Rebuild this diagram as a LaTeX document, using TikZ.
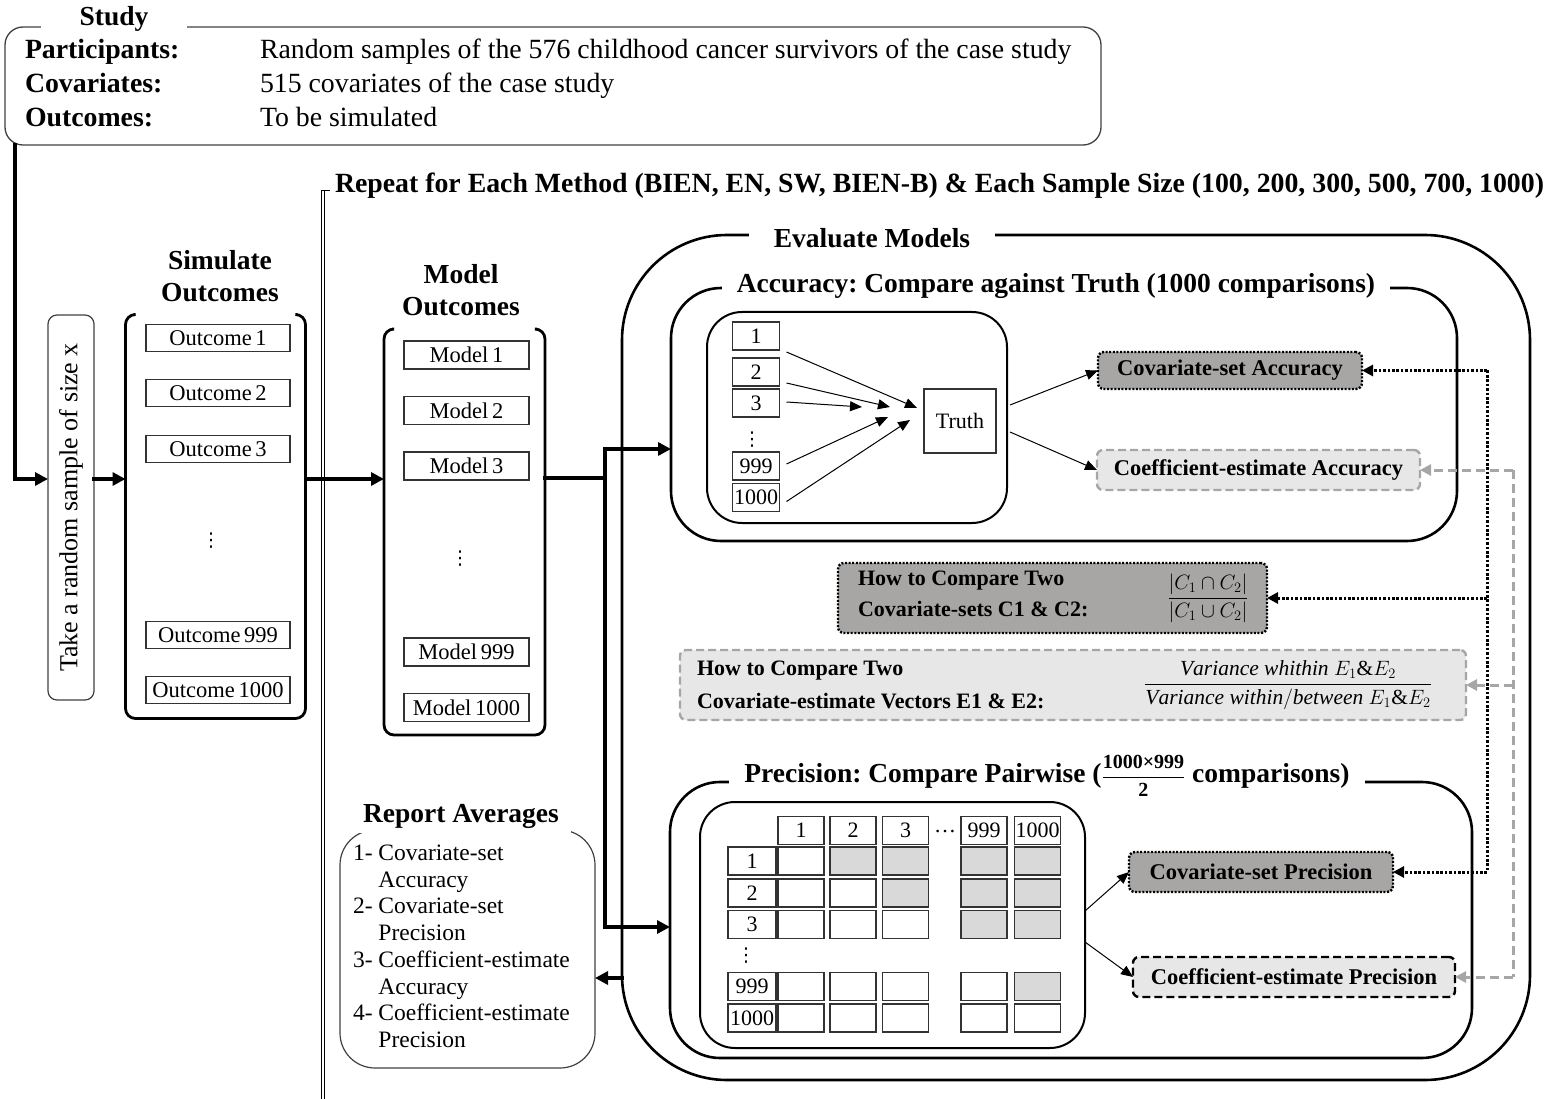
\documentclass[tikz,border=0pt]{standalone}
\usepackage{fontspec}
\setmainfont{Liberation Serif}
\newfontfamily\symfont{DejaVu Sans}
\usetikzlibrary{arrows.meta}
\frenchspacing
\newcommand{\fsz}[2]{\fontsize{#1pt}{#2pt}\selectfont}
\newcommand{\vdotsglyph}{{\symfont ⋮}}
\definecolor{darkfill}{RGB}{168,165,165}
\definecolor{lightfill}{RGB}{231,231,231}
\definecolor{cellfill}{RGB}{217,217,217}
\definecolor{dashgray}{RGB}{166,166,166}
\begin{document}
\begin{tikzpicture}[x=1pt,y=-1pt,
  every node/.style={inner sep=0pt,outer sep=0pt},
  flow/.style={line width=4pt,line cap=rect,line join=miter,-{Triangle[length=13pt,width=13pt]}},
  flowline/.style={line width=4pt,line cap=rect},
  thinarrow/.style={line width=1pt,-{Triangle[length=12pt,width=10pt]}},
  bracket/.style={line width=2.8pt,rounded corners=10pt},
  frame/.style={draw,line width=2.6pt},
  innerframe/.style={draw,line width=2pt,rounded corners=35pt},
  thinframe/.style={draw=black!75,line width=1.2pt},
  ttl/.style={font=\bfseries\fsz{27.5}{32},fill=white,inner ysep=5pt},
  hdr/.style={font=\bfseries\fsz{27.5}{32},align=center},
  lab/.style={font=\fsz{27.8}{30}},
  ibox/.style={draw=black!80,line width=1.1pt,font=\fsz{22.5}{22.5}},
  cell/.style={draw=black!80,line width=1.1pt,minimum width=46pt,minimum height=28pt,font=\fsz{22}{22}},
  dotsnode/.style={font=\fsz{19}{19}},
  darkbox/.style={draw,fill=darkfill,line width=2.4pt,dash pattern=on 2pt off 1.6pt,rounded corners=6pt,font=\bfseries\fsz{22.5}{22.5}},
  lightbox/.style={draw=dashgray,fill=lightfill,line width=2.4pt,dash pattern=on 8pt off 4pt,rounded corners=6pt,font=\bfseries\fsz{22.5}{22.5}},
  dotbus/.style={line width=3pt,dash pattern=on 2.6pt off 1.8pt},
  dotarrow/.style={dotbus,-{Triangle[length=11pt,width=11pt]}},
  dashbus/.style={draw=dashgray,line width=3pt,dash pattern=on 9pt off 5pt},
  dasharrow/.style={dashbus,-{Triangle[length=11pt,width=11pt,fill=dashgray]}},
  boxtext/.style={font=\bfseries\fsz{22}{22},anchor=west}
]
\useasboundingbox (0,0) rectangle (1548,1099);

% ---------- Study description ----------
\node[draw=black!75,line width=1.3pt,rounded corners=18pt,minimum width=1096pt,minimum height=118pt] (study) at (553,86) {};
\node[ttl,inner xsep=39pt] (studyt) at (114,19) {Study};
\node[lab,anchor=base west] (lpart) at (25,59) {\bfseries Participants:};
\node[lab,anchor=base west] (vpart) at (260,59) {Random samples of the 576 childhood cancer survivors of the case study};
\node[lab,anchor=base west] (lcov) at (25,93) {\bfseries Covariates:};
\node[lab,anchor=base west] (vcov) at (260,93) {515 covariates of the case study};
\node[lab,anchor=base west] (lout) at (25,127) {\bfseries Outcomes:};
\node[lab,anchor=base west] (vout) at (260,127) {To be simulated};

% ---------- Sampling ----------
\coordinate (s0) at ([xshift=10pt]study.south west);
\coordinate (r1) at (0,479);
\node[thinframe,rounded corners=9pt,minimum width=46pt,minimum height=385pt] (take) at (71,507.5) {};
\node[rotate=90,font=\fsz{26}{26}] (taketxt) at (take.center) {Take a random sample of size x};

% ---------- Simulated outcomes ----------
\node[minimum width=180pt,minimum height=404pt] (sim) at (215.5,516.5) {};
\draw[bracket] ([xshift=8pt]sim.north west) -- (sim.north west) -- (sim.south west)
  -- (sim.south east) -- (sim.north east) -- ([xshift=-8pt]sim.north east);
\node[hdr] (simt) at (220,276) {Simulate\\Outcomes};
\foreach \yy/\tx [count=\i] in {338/1,393/2,449/3,635/999,690/1000}
  \node[ibox,minimum width=144pt,minimum height=27pt] (o\i) at (218,\yy) {Outcome\,\tx};
\node[dotsnode] (odots) at (211,541) {\vdotsglyph};

% ---------- Model outcomes ----------
\node[minimum width=161pt,minimum height=406pt] (model) at (464.5,532) {};
\draw[bracket] ([xshift=8pt]model.north west) -- (model.north west) -- (model.south west)
  -- (model.south east) -- (model.north east) -- ([xshift=-8pt]model.north east);
\node[hdr] (modelt) at (461,290) {Model\\Outcomes};
\foreach \yy/\tx [count=\i] in {355/1,410.5/2,466/3,652/999,707.5/1000}
  \node[ibox,minimum width=125pt,minimum height=28pt] (m\i) at (466.5,\yy) {Model\,\tx};
\node[dotsnode] (mdots) at (460,559) {\vdotsglyph};

% ---------- Repeat loop marker ----------
\coordinate (rt) at (323,190);
\coordinate (rb) at (323,1099);
\draw[double,double distance=2pt,line width=0.9pt] (rt) -- (rb);
\draw[line width=0.9pt] ([xshift=-2pt]rt) -- ([xshift=7pt]rt);
\node[font=\bfseries\fsz{27.8}{30},anchor=west] (rep) at (335,186)
  {Repeat for Each Method (BIEN, EN, SW, BIEN-B) \& Each Sample Size (100, 200, 300, 500, 700, 1000)};

% ---------- Evaluation frames ----------
\node[frame,rounded corners=105pt,minimum width=908pt,minimum height=845pt] (eval) at (1076,657.5) {};
\node[frame,rounded corners=50pt,minimum width=786pt,minimum height=253pt] (acc) at (1064,414.5) {};
\node[frame,rounded corners=50pt,minimum width=802pt,minimum height=276pt] (prec) at (1071,920) {};
\node[ttl,inner xsep=25pt] (evalt) at (872,238) {Evaluate Models};
\node[ttl,inner xsep=15pt] (acct) at (1056,286) {Accuracy: Compare against Truth (1000 comparisons)};
\node[ttl,inner xsep=15pt] (prect) at (1047,776) {Precision: Compare Pairwise (%
  {\fsz{20}{20}$\displaystyle\frac{\mbox{\bfseries 1000×999}}{\mbox{\bfseries 2}}$} comparisons)};

% ---------- Main flow ----------
\draw[flow] (s0) |- (take.west |- r1);
\draw[flow] (take.east |- r1) -- (sim.west |- r1);
\draw[flow] (sim.east |- r1) -- (model.west |- r1);
\coordinate (j1) at (605,478);
\coordinate (j2) at (605,449);
\coordinate (j3) at (605,927);
\coordinate (ry) at (0,978);
\draw[flowline] (model.east |- j1) -- (j1);
\draw[flow] (j2) -- (acc.west |- j2);
\draw[flow] (j2) -- (j3) -- (prec.west |- j3);

% ---------- Report ----------
\node[thinframe,rounded corners=35pt,minimum width=255pt,minimum height=238pt] (report) at (467.5,949) {};
\node[ttl,inner xsep=12pt] (reportt) at (461,816) {Report Averages};
\node[font=\fsz{23.5}{26.7},align=left,anchor=north west] (items) at (353,845)
  {1- Covariate-set\\\phantom{1- }Accuracy\\2- Covariate-set\\\phantom{2- }Precision\\
   3- Coefficient-estimate\\\phantom{3- }Accuracy\\4- Coefficient-estimate\\\phantom{4- }Precision};
\draw[flow] (eval.west |- ry) -- (report.east |- ry);

% ---------- Accuracy panel ----------
\node[innerframe,minimum width=300pt,minimum height=211pt] (accin) at (857,417.5) {};
\foreach \yy/\tx [count=\i] in {336/1,372/2,403/3,466/999,497.5/1000}
  \node[cell,minimum width=47pt] (a\i) at (756,\yy) {\tx};
\node[dotsnode] (adots) at (752,440) {\vdotsglyph};
\node[cell,minimum width=72pt,minimum height=64pt] (truth) at (960,421) {Truth};
\coordinate (t1) at (917,408);
\coordinate (t2) at (890,407);
\coordinate (t3) at (862,407);
\coordinate (t4) at (888,417);
\coordinate (t5) at (910,420);
\draw[thinarrow] ([shift={(7,16)}]a1.east) -- (t1);
\draw[thinarrow] ([shift={(7,11)}]a2.east) -- (t2);
\draw[thinarrow] ([shift={(7,-1)}]a3.east) -- (t3);
\draw[thinarrow] ([shift={(7,-2)}]a4.east) -- (t4);
\draw[thinarrow] ([shift={(7,4)}]a5.east) -- (t5);

\node[darkbox,minimum width=264pt,minimum height=37pt] (csacc) at (1230,370.5) {Covariate-set Accuracy};
\node[lightbox,minimum width=323pt,minimum height=40pt] (ceacc) at (1258.5,470) {Coefficient-estimate Accuracy};
\draw[thinarrow] ([shift={(14,-16)}]truth.east) -- (csacc.west);
\draw[thinarrow] ([shift={(14,11)}]truth.east) -- (ceacc.west);

% ---------- Comparison rules ----------
\node[darkbox,minimum width=429pt,minimum height=70pt] (cbox) at (1052.5,598) {};
\node[boxtext] (c1) at (858,581) {How to Compare Two};
\node[boxtext] (c2) at (858,609) {Covariate-sets C1 \& C2:};
\node[font=\fsz{22}{22}] (cfrac) at (1208,598) {$\displaystyle\frac{|C_1\cap C_2|}{|C_1\cup C_2|}$};

\node[lightbox,minimum width=786pt,minimum height=70pt] (ebox) at (1073,685) {};
\node[boxtext] (e1) at (697,671) {How to Compare Two};
\node[boxtext] (e2) at (697,701) {Covariate-estimate Vectors E1 \& E2:};
\node[font=\fsz{21.5}{21.5}] (efrac) at (1288,685)
  {$\displaystyle\frac{\mathit{Variance\ whithin}\ E_1\&E_2}{\mathit{Variance\ within/between}\ E_1\&E_2}$};

% ---------- Precision panel ----------
\node[innerframe,minimum width=385pt,minimum height=246pt] (precin) at (892.5,925) {};
\foreach \cx/\cn [count=\ci] in {801/1,853/2,905.5/3,984/999,1037.5/1000}
  \node[cell] (h\ci) at (\cx,830.5) {\cn};
\node[font=\fsz{22}{22}] (hdots) at (945,832) {\dots};
\foreach \ry/\rn [count=\ri] in {861/1,893/2,924.5/3,986.5/999,1018/1000} {
  \node[cell,minimum width=48pt] (r\ri) at (752,\ry) {\rn};
  \foreach \cx [count=\ci] in {801,853,905.5,984,1037.5} {
    \ifnum\ci>\ri
      \node[cell,fill=cellfill] (g\ri-\ci) at (\cx,\ry) {};
    \else
      \node[cell] (g\ri-\ci) at (\cx,\ry) {};
    \fi
  }
}
\node[dotsnode] (rdots) at (746,956) {\vdotsglyph};

\node[darkbox,minimum width=264pt,minimum height=40pt] (csprec) at (1261,872) {Covariate-set Precision};
\node[lightbox,draw=black,minimum width=322pt,minimum height=40pt] (ceprec) at (1294,977) {Coefficient-estimate Precision};
\draw[thinarrow] ([shift={(0,-14)}]precin.east) -- (csprec.west);
\draw[thinarrow] ([shift={(0,17)}]precin.east) -- (ceprec.west);

% ---------- Metric connectors ----------
\coordinate (dbus) at (1487,0);
\coordinate (gbus) at (1513,0);
\draw[dotbus] (dbus |- csacc.east) -- (dbus |- csprec.east);
\draw[dotarrow] (dbus |- csacc.east) -- (csacc.east);
\draw[dotarrow] (dbus |- cbox.east) -- (cbox.east);
\draw[dotarrow] (dbus |- csprec.east) -- (csprec.east);
\draw[dashbus] (gbus |- ceacc.east) -- (gbus |- ceprec.east);
\draw[dasharrow] (gbus |- ceacc.east) -- (ceacc.east);
\draw[dasharrow] (gbus |- ebox.east) -- (ebox.east);
\draw[dasharrow] (gbus |- ceprec.east) -- (ceprec.east);
\end{tikzpicture}
\end{document}
